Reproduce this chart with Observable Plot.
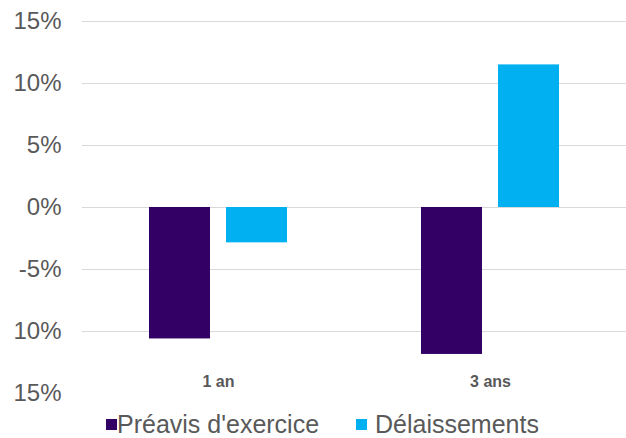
<!DOCTYPE html>
<html>
<head>
<meta charset="utf-8">
<script src="https://cdn.jsdelivr.net/npm/d3@7"></script>
<script src="https://cdn.jsdelivr.net/npm/@observablehq/plot@0.6"></script>
<style>
  html, body { margin: 0; padding: 0; background: #fff; }
  body { width: 626px; font-family: Arial, "Liberation Sans", sans-serif; }
  #legend { position: relative; height: 28px; font-size: 25px; color: #595959; }
  .sw { position: absolute; width: 11px; height: 11px; top: 9px; }
  .lbl { position: absolute; top: 0; height: 28px; line-height: 28px; white-space: nowrap; }
</style>
</head>
<body>
<div id="chart"></div>
<div id="legend"></div>
<script>
const categories = ["1 an", "3 ans"];
const series = ["Préavis d'exercice", "Délaissements"];
const preavis = [-10.6, -11.85];
const delaissements = [-2.85, 11.5];
const yTicks = [15, 10, 5, 0, -5, -10, -15];
const yTickLabels = ["15%", "10%", "5%", "0%", "-5%", "10%", "15%"];
const colors = ["#330066", "#00B0F0"];

const data = [];
categories.forEach((c, i) => {
  data.push({cat: c, serie: series[0], value: preavis[i]});
  data.push({cat: c, serie: series[1], value: delaissements[i]});
});
const gridTicks = yTicks.filter(t => t !== -15);
const labelMap = new Map(yTicks.map((t, i) => [t, yTickLabels[i]]));

const chart = Plot.plot({
  width: 626,
  height: 410,
  marginTop: 21,
  marginBottom: 17,
  marginLeft: 82,
  marginRight: 0,
  style: {fontFamily: 'Arial, "Liberation Sans", sans-serif', background: "#fff"},
  fx: {domain: categories, paddingInner: 0, paddingOuter: 0, axis: null},
  x: {domain: series, paddingInner: 0.208, paddingOuter: 0.87, axis: null},
  y: {domain: [-15, 15], axis: null},
  color: {domain: series, range: colors},
  marks: [
    Plot.ruleY(gridTicks, {y: d => d, stroke: "#D9D9D9", strokeWidth: 1}),
    Plot.barY(data, {fx: "cat", x: "serie", y: "value", fill: "serie"}),
    Plot.text(categories, {fx: d => d, text: d => d, frameAnchor: "bottom", dy: -12, lineAnchor: "middle", fontSize: 16, fontWeight: 600, fill: "#595959"}),
    Plot.axisY({ticks: yTicks, tickSize: 0, tickPadding: 21, tickFormat: d => labelMap.get(d), fontSize: 24, fill: "#595959", label: null})
  ]
});
document.getElementById("chart").appendChild(chart);

const legend = document.getElementById("legend");
const swatchX = [106, 356];
const textX = [117, 375];
series.forEach((s, i) => {
  const sw = document.createElement("span");
  sw.className = "sw";
  sw.style.left = swatchX[i] + "px";
  sw.style.background = colors[i];
  const t = document.createElement("span");
  t.className = "lbl";
  t.style.left = textX[i] + "px";
  t.textContent = s;
  legend.appendChild(sw);
  legend.appendChild(t);
});
</script>
</body>
</html>
